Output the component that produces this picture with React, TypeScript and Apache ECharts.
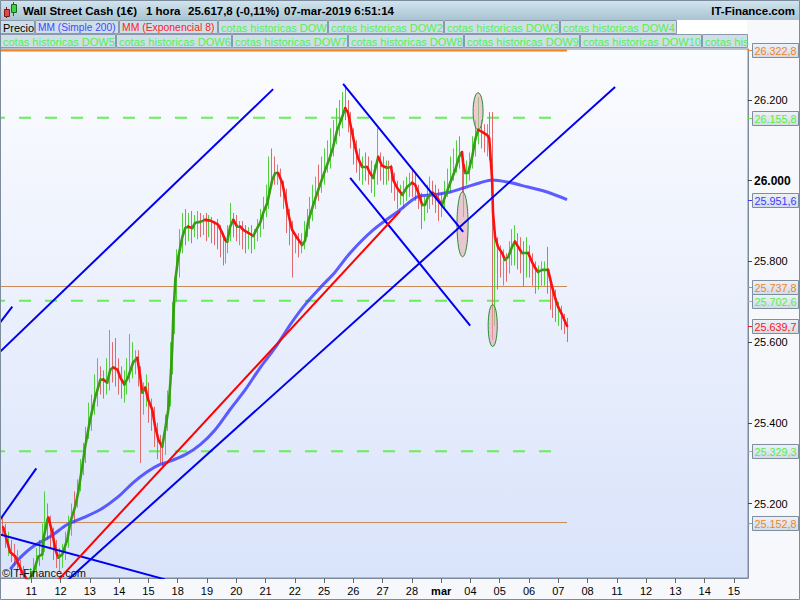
import { useEffect, useRef } from "react";
import * as echarts from "echarts";

// ---- axis ranges / tick labels ----
const X_MIN = -1.07;
const X_MAX = 24.48;
const Y_MIN = 25015.4;
const Y_MAX = 26326.4;

const dayLabels = ["11", "12", "13", "14", "15", "18", "19", "20", "21", "22", "25", "26", "27", "28", "mar", "04", "05", "06", "07", "08", "11", "12", "13", "14", "15"];
const priceTicks = [25200, 25400, 25600, 25800, 26000, 26200];

// ---- EMA 8 (time in trading days, price) ----
const emaT = [-0.96, -0.72, -0.55, -0.31, -0.10, 0.07, 0.24, 0.38, 0.41, 0.55, 0.58, 0.72, 0.82, 0.92, 1.06, 1.23, 1.33, 1.50, 1.60, 1.74, 1.84, 2.01, 2.19, 2.36, 2.46, 2.59, 2.70, 2.80, 2.94, 3.04, 3.18, 3.31, 3.48, 3.62, 3.72, 3.79, 3.89, 3.99, 4.13, 4.23, 4.34, 4.47, 4.57, 4.68, 4.75, 4.81, 4.85, 4.92, 5.02, 5.16, 5.26, 5.36, 5.50, 5.60, 5.77, 5.94, 6.11, 6.21, 6.38, 6.52, 6.62, 6.69, 6.79, 6.90, 7.03, 7.14, 7.24, 7.41, 7.58, 7.72, 7.82, 7.92, 8.06, 8.23, 8.33, 8.43, 8.57, 8.67, 8.77, 8.91, 9.08, 9.25, 9.35, 9.46, 9.63, 9.80, 10.04, 10.21, 10.31, 10.45, 10.62, 10.72, 10.82, 10.89, 10.99, 11.06, 11.16, 11.30, 11.47, 11.57, 11.68, 11.74, 11.85, 11.98, 12.15, 12.29, 12.36, 12.50, 12.67, 12.84, 13.01, 13.11, 13.21, 13.35, 13.45, 13.55, 13.72, 13.86, 14.03, 14.13, 14.31, 14.48, 14.61, 14.71, 14.75, 14.82, 14.92, 15.06, 15.16, 15.26, 15.40, 15.57, 15.64, 15.74, 15.77, 15.84, 15.94, 16.08, 16.18, 16.29, 16.42, 16.52, 16.63, 16.76, 16.87, 16.97, 17.10, 17.21, 17.31, 17.45, 17.55, 17.65, 17.79, 17.89, 17.99, 18.13, 18.23, 18.30];
const emaP = [25141, 25079, 25069, 25029, 25007, 25029, 25069, 25074, 25111, 25160, 25165, 25128, 25086, 25066, 25074, 25111, 25153, 25193, 25227, 25292, 25341, 25408, 25465, 25507, 25507, 25500, 25532, 25537, 25532, 25512, 25495, 25514, 25550, 25561, 25514, 25475, 25487, 25458, 25433, 25391, 25358, 25341, 25383, 25433, 25500, 25581, 25663, 25755, 25811, 25861, 25883, 25886, 25883, 25896, 25898, 25903, 25901, 25898, 25891, 25871, 25853, 25849, 25886, 25903, 25886, 25886, 25878, 25871, 25863, 25883, 25896, 25920, 25945, 26002, 26019, 26019, 25995, 25960, 25920, 25878, 25858, 25841, 25851, 25900, 25940, 25977, 26027, 26060, 26084, 26126, 26158, 26180, 26168, 26143, 26108, 26084, 26056, 26034, 26034, 26019, 26007, 26027, 26059, 26037, 26032, 26034, 26002, 25982, 25965, 25985, 25995, 25990, 25972, 25940, 25940, 25960, 25970, 25958, 25940, 25960, 25995, 26027, 26059, 26071, 26044, 26019, 26019, 26059, 26101, 26126, 26121, 26113, 26106, 26002, 25920, 25861, 25836, 25821, 25804, 25811, 25836, 25849, 25836, 25821, 25821, 25821, 25799, 25784, 25774, 25779, 25779, 25779, 25737, 25710, 25688, 25668, 25651, 25640];

// ---- MM simple 200 ----
const maT = [-0.72, -0.38, 0.07, 0.65, 1.23, 1.78, 2.36, 2.94, 3.48, 3.96, 4.40, 4.64, 5.26, 5.77, 6.28, 6.79, 7.31, 7.82, 8.33, 8.84, 9.35, 9.87, 10.38, 10.89, 11.68, 12.60, 13.18, 13.72, 14.31, 14.89, 15.33, 15.74, 16.25, 16.93, 17.62, 18.30];
const maP = [25037, 25066, 25094, 25118, 25148, 25165, 25185, 25215, 25252, 25279, 25297, 25302, 25321, 25346, 25383, 25433, 25482, 25537, 25586, 25643, 25693, 25735, 25774, 25821, 25878, 25928, 25960, 25965, 25972, 25985, 25995, 26002, 25997, 25985, 25972, 25953];

// ---- hourly bars: [time, low, high, up(1)/down(0)] ----
const priceBars = [
  [-1.0, 25120, 25170, 0], [-0.9, 25090, 25150, 0], [-0.8, 25070, 25130, 1], [-0.7, 25055, 25110, 0], [-0.6, 25045, 25100, 0],
  [-0.5, 25030, 25085, 1], [-0.4, 25000, 25060, 0], [-0.3, 24990, 25045, 0], [-0.2, 24990, 25035, 1], [-0.05, 24995, 25040, 1],
  [0.05, 25000, 25065, 1], [0.15, 25030, 25090, 1], [0.25, 25045, 25110, 0], [0.35, 25060, 25150, 1], [0.45, 25080, 25230, 1],
  [0.55, 25110, 25200, 0], [0.65, 25090, 25170, 0], [0.75, 25060, 25140, 0], [0.85, 25040, 25110, 0], [0.95, 25030, 25090, 1],
  [1.05, 25040, 25100, 1], [1.15, 25060, 25130, 1], [1.25, 25090, 25170, 1], [1.35, 25120, 25200, 1], [1.45, 25150, 25230, 0],
  [1.55, 25190, 25260, 1], [1.65, 25230, 25310, 1], [1.75, 25270, 25350, 1], [1.85, 25300, 25390, 1], [1.95, 25360, 25450, 1],
  [2.05, 25380, 25470, 1], [2.15, 25420, 25520, 1], [2.25, 25440, 25560, 1], [2.35, 25470, 25540, 0], [2.45, 25460, 25530, 0],
  [2.55, 25470, 25560, 1], [2.65, 25480, 25630, 1], [2.75, 25500, 25600, 0], [2.85, 25490, 25610, 0], [2.95, 25470, 25560, 0],
  [3.05, 25460, 25540, 0], [3.15, 25450, 25530, 1], [3.25, 25470, 25560, 1], [3.35, 25500, 25620, 1], [3.45, 25510, 25600, 1],
  [3.55, 25520, 25580, 1], [3.65, 25490, 25580, 0], [3.72, 25300, 25540, 0], [3.80, 25420, 25500, 1], [3.90, 25440, 25520, 1],
  [4.00, 25400, 25500, 0], [4.10, 25380, 25460, 0], [4.20, 25340, 25440, 0], [4.30, 25310, 25400, 0], [4.40, 25300, 25370, 0],
  [4.47, 25290, 25360, 0], [4.55, 25320, 25420, 1], [4.65, 25380, 25480, 1], [4.72, 25440, 25600, 1], [4.80, 25520, 25700, 1],
  [4.88, 25620, 25760, 1], [4.95, 25700, 25830, 1], [5.05, 25760, 25880, 1], [5.15, 25820, 25920, 1], [5.25, 25840, 25930, 0],
  [5.35, 25850, 25920, 1], [5.45, 25845, 25925, 0], [5.55, 25860, 25915, 1], [5.65, 25855, 25925, 1], [5.75, 25860, 25920, 0],
  [5.85, 25865, 25915, 1], [5.95, 25850, 25920, 0], [6.05, 25860, 25915, 1], [6.15, 25845, 25910, 0], [6.25, 25840, 25900, 0],
  [6.35, 25830, 25905, 0], [6.45, 25810, 25890, 0], [6.55, 25790, 25870, 0], [6.62, 25795, 25860, 1], [6.70, 25820, 25890, 1],
  [6.80, 25850, 25945, 1], [6.90, 25860, 25920, 0], [7.00, 25850, 25915, 0], [7.10, 25840, 25900, 1], [7.20, 25830, 25900, 0],
  [7.30, 25820, 25890, 0], [7.40, 25830, 25885, 1], [7.50, 25820, 25890, 0], [7.60, 25830, 25880, 1], [7.70, 25850, 25905, 1],
  [7.80, 25860, 25930, 1], [7.90, 25880, 25960, 1], [8.00, 25910, 25990, 1], [8.10, 25930, 26060, 1], [8.20, 25990, 26080, 0],
  [8.30, 25990, 26060, 0], [8.40, 25990, 26040, 1], [8.50, 25960, 26030, 0], [8.60, 25930, 26000, 0], [8.70, 25870, 25980, 0],
  [8.80, 25840, 25930, 0], [8.90, 25760, 25900, 0], [9.00, 25820, 25870, 1], [9.10, 25810, 25870, 0], [9.20, 25820, 25870, 1],
  [9.30, 25830, 25900, 1], [9.40, 25860, 25930, 1], [9.50, 25880, 25960, 1], [9.60, 25900, 25990, 1], [9.70, 25930, 26010, 1],
  [9.80, 25950, 26040, 0], [9.90, 25970, 26060, 1], [10.00, 25990, 26080, 1], [10.10, 26020, 26100, 1], [10.20, 26030, 26130, 1],
  [10.30, 26060, 26150, 1], [10.40, 26090, 26180, 1], [10.50, 26110, 26200, 1], [10.60, 26130, 26220, 1], [10.70, 26150, 26237, 0],
  [10.80, 26120, 26200, 0], [10.90, 26080, 26170, 0], [11.00, 26040, 26130, 0], [11.10, 26020, 26100, 0], [11.20, 26000, 26080, 0],
  [11.30, 25990, 26060, 1], [11.40, 26000, 26070, 0], [11.50, 25990, 26060, 0], [11.60, 25970, 26050, 0], [11.70, 25960, 26040, 1],
  [11.80, 25990, 26130, 1], [11.90, 26000, 26070, 0], [12.00, 25990, 26060, 0], [12.10, 25990, 26050, 1], [12.20, 26000, 26050, 0],
  [12.30, 25970, 26040, 0], [12.40, 25950, 26020, 0], [12.50, 25930, 26000, 0], [12.60, 25940, 25990, 1], [12.70, 25930, 26000, 1],
  [12.80, 25950, 26010, 1], [12.90, 25960, 26020, 1], [13.00, 25960, 26030, 0], [13.10, 25950, 26020, 0], [13.20, 25930, 25990, 0],
  [13.30, 25880, 25970, 0], [13.40, 25900, 25960, 1], [13.50, 25920, 25990, 1], [13.60, 25930, 26010, 1], [13.70, 25940, 26000, 0],
  [13.80, 25920, 25990, 0], [13.90, 25900, 25980, 0], [14.00, 25910, 25970, 1], [14.10, 25930, 26000, 1], [14.20, 25960, 26030, 1],
  [14.30, 25970, 26060, 1], [14.40, 26000, 26080, 1], [14.50, 26020, 26100, 1], [14.60, 26030, 26110, 0], [14.70, 25970, 26070, 0],
  [14.75, 25910, 26040, 0], [14.85, 25990, 26050, 1], [14.95, 26000, 26070, 1], [15.05, 26030, 26110, 1], [15.15, 26060, 26150, 1],
  [15.25, 26090, 26207, 1], [15.35, 26080, 26150, 0], [15.45, 26070, 26140, 0], [15.55, 26060, 26140, 1], [15.65, 26050, 26170, 0],
  [15.72, 25606, 26170, 0], [15.80, 25640, 25870, 1], [15.90, 25730, 25860, 0], [16.00, 25760, 25840, 0], [16.10, 25740, 25830, 1],
  [16.20, 25750, 25820, 0], [16.30, 25770, 25850, 1], [16.40, 25790, 25880, 1], [16.50, 25790, 25890, 1], [16.60, 25780, 25870, 0],
  [16.70, 25770, 25860, 0], [16.80, 25737, 25850, 0], [16.90, 25760, 25860, 1], [17.00, 25760, 25840, 0], [17.10, 25740, 25820, 0],
  [17.20, 25720, 25800, 0], [17.30, 25730, 25790, 1], [17.40, 25740, 25800, 1], [17.50, 25740, 25800, 1], [17.60, 25720, 25836, 0],
  [17.70, 25680, 25760, 0], [17.80, 25660, 25740, 0], [17.90, 25650, 25730, 0], [18.00, 25640, 25700, 1], [18.10, 25630, 25690, 0],
  [18.20, 25620, 25670, 0], [18.30, 25600, 25660, 0],
];

// ---- levels ----
const rangeLevels = [26322.8, 25737.8, 25152.8];
const cotaLevels = [26155.8, 25702.6, 25329.3];
const lastMA = 25951.6;
const lastEMA = 25639.7;
const levelEndT = 18.3;

// ---- drawn trend lines [t1, p1, t2, p2] ----
const blueTrends = [
  [-1.07, 25576, 8.26, 26227],
  [-1.07, 25648, -0.65, 25688],
  [-1.07, 25160, 0.17, 25287],
  [-1.07, 25123, 4.57, 25012],
  [1.16, 25005, 19.94, 26232],
  [10.65, 26240, 14.75, 25873],
  [10.89, 26007, 14.99, 25641],
];
const redTrends = [[0.85, 25005, 12.60, 25925]];

// ---- ellipses [t, price, widthDays, heightPts] ----
const ellipses = [
  [15.26, 26172, 0.34, 92],
  [14.73, 25892, 0.38, 161],
  [15.76, 25641, 0.31, 104],
];

// ---- header / legend texts ----
const legendRow1 = [
  { text: "Precio", color: "#000000", x: 0, w: 35, fs: 11 },
  { text: "MM (Simple 200)", color: "#4646ff", x: 35, w: 84, fs: 10.2 },
  { text: "MM (Exponencial 8)", color: "#ff2020", x: 119, w: 99, fs: 10.4 },
  { text: "cotas historicas DOW", color: "#55ee55", x: 218, w: 110, fs: 11 },
  { text: "cotas historicas DOW2", color: "#55ee55", x: 328, w: 116, fs: 11 },
  { text: "cotas historicas DOW3", color: "#55ee55", x: 444, w: 116, fs: 11 },
  { text: "cotas historicas DOW4", color: "#55ee55", x: 560, w: 117, fs: 11 },
];
const legendRow2 = [
  { text: "cotas historicas DOW5", color: "#55ee55", x: 0, w: 116, fs: 11 },
  { text: "cotas historicas DOW6", color: "#55ee55", x: 116, w: 116, fs: 11 },
  { text: "cotas historicas DOW7", color: "#55ee55", x: 232, w: 116, fs: 11 },
  { text: "cotas historicas DOW8", color: "#55ee55", x: 348, w: 116, fs: 11 },
  { text: "cotas historicas DOW9", color: "#55ee55", x: 464, w: 116, fs: 11 },
  { text: "cotas historicas DOW10", color: "#55ee55", x: 580, w: 122, fs: 11 },
  { text: "cotas his", color: "#55ee55", x: 702, w: 46, fs: 11 },
];
const headerParts = [
  { text: "Wall Street Cash (1€)", x: 23 },
  { text: "1 hora", x: 146 },
  { text: "25.617,8 (-0,11%)", x: 188 },
  { text: "07-mar-2019 6:51:14", x: 284 },
];

const FONT = '"Liberation Sans", Arial, sans-serif';
const boxColors = ["#f08424", "#55ee44", "#3b3bff", "#ff1414"];

function fmtNum(v: number, dec: number) {
  const s = v.toFixed(dec);
  const [ip, dp] = s.split(".");
  const dotted = ip.replace(/\B(?=(\d{3})+(?!\d))/g, ".");
  return dp ? dotted + "," + dp : dotted;
}

function buildOption() {
  const series: any[] = [];

  // range levels (orange)
  rangeLevels.forEach((v, i) => {
    series.push({
      type: "line", silent: true, showSymbol: false, z: 1,
      data: [[X_MIN, v], [levelEndT, v]],
      lineStyle: { color: i === 0 ? "#f08424" : "#c98a55", width: i === 0 ? 2 : 1 },
    });
  });
  // historical levels (green dashed)
  cotaLevels.forEach((v) => {
    series.push({
      type: "line", silent: true, showSymbol: false, z: 1,
      data: [[X_MIN, v], [18.06, v]],
      lineStyle: { color: "#66f055", width: 2, type: [12, 14], dashOffset: 7 },
    });
  });

  // hourly bars
  series.push({
    type: "custom", silent: true, clip: true, z: 2,
    data: priceBars,
    encode: { x: 0, y: [1, 2] },
    renderItem: (params: any, api: any) => {
      const t = api.value(0);
      const a = api.coord([t, api.value(1)]);
      const b = api.coord([t, api.value(2)]);
      const x = Math.round(a[0]) + 0.5;
      return {
        type: "line",
        shape: { x1: x, y1: a[1], x2: x, y2: b[1] },
        style: { stroke: api.value(3) ? "#52cf3c" : "#e06a6a", lineWidth: 1 },
      };
    },
  });

  // MA 200
  series.push({
    type: "line", silent: true, showSymbol: false, smooth: 0.3, z: 3,
    data: maT.map((t, i) => [t, maP[i]]),
    lineStyle: { color: "rgba(55,55,255,0.8)", width: 3 },
  });

  // ellipses
  series.push({
    type: "custom", silent: true, clip: true, z: 4,
    data: ellipses,
    encode: { x: 0, y: 1 },
    renderItem: (params: any, api: any) => {
      const c = api.coord([api.value(0), api.value(1)]);
      const s = api.size([api.value(2), api.value(3)]);
      return {
        type: "ellipse",
        shape: { cx: c[0], cy: c[1], rx: s[0] / 2, ry: s[1] / 2 },
        style: { fill: "rgba(228,170,182,0.6)", stroke: "#2d8a2d", lineWidth: 1 },
      };
    },
  });

  // EMA 8, split into rising / falling runs
  const runs: { up: boolean; pts: number[][] }[] = [];
  let cur: number[][] = [[emaT[0], emaP[0]]];
  let dir = emaP[1] >= emaP[0];
  for (let i = 1; i < emaT.length; i++) {
    const d = emaP[i] >= emaP[i - 1];
    if (d !== dir && cur.length > 1) {
      runs.push({ up: dir, pts: cur });
      cur = [[emaT[i - 1], emaP[i - 1]]];
      dir = d;
    }
    cur.push([emaT[i], emaP[i]]);
  }
  runs.push({ up: dir, pts: cur });
  runs.forEach((r) => {
    series.push({
      type: "line", silent: true, showSymbol: false, z: 5,
      data: r.pts,
      lineStyle: { color: r.up ? "#379c16" : "#ff1010", width: 2.6, cap: "round", join: "round" },
    });
  });

  // trend lines
  blueTrends.forEach((l) => {
    series.push({
      type: "line", silent: true, showSymbol: false, z: 6,
      data: [[l[0], l[1]], [l[2], l[3]]],
      lineStyle: { color: "#0000f0", width: 2 },
    });
  });
  redTrends.forEach((l) => {
    series.push({
      type: "line", silent: true, showSymbol: false, z: 6,
      data: [[l[0], l[1]], [l[2], l[3]]],
      lineStyle: { color: "#ff0000", width: 2 },
    });
  });

  // right-axis value boxes
  const boxes: number[][] = [];
  rangeLevels.forEach((v) => boxes.push([X_MAX, v, 0]));
  cotaLevels.forEach((v) => boxes.push([X_MAX, v, 1]));
  boxes.push([X_MAX, lastMA, 2]);
  boxes.push([X_MAX, lastEMA, 3]);
  series.push({
    type: "custom", silent: true, clip: false, z: 20,
    data: boxes,
    encode: { x: 0, y: 1 },
    renderItem: (params: any, api: any) => {
      const p = api.coord([api.value(0), api.value(1)]);
      const x0 = Math.round(p[0]);
      const y = Math.round(p[1]);
      const col = boxColors[api.value(2)];
      return {
        type: "group",
        children: [
          { type: "line", shape: { x1: x0, y1: y + 0.5, x2: x0 + 4, y2: y + 0.5 }, style: { stroke: col, lineWidth: 1 } },
          {
            type: "rect",
            shape: { x: x0 + 4.5, y: y - 6.5, width: 46, height: 14 },
            style: {
              fill: new echarts.graphic.LinearGradient(0, 0, 0, 1, [
                { offset: 0, color: "#eef2f8" },
                { offset: 1, color: "#d2dbe7" },
              ]),
              stroke: "#7e8e9e", lineWidth: 1,
            },
          },
          {
            type: "text",
            x: x0 + 6.5, y: y + 1,
            style: { text: fmtNum(api.value(1), 1), fill: col, font: "10.8px " + FONT, verticalAlign: "middle" },
          },
        ],
      };
    },
  });

  // graphic (header, legend, frame)
  const graphic: any[] = [];
  graphic.push({
    type: "rect", z: 10, shape: { x: 0, y: 0, width: 800, height: 20 },
    style: {
      fill: new echarts.graphic.LinearGradient(0, 0, 0, 1, [
        { offset: 0, color: "#d3e6ef" },
        { offset: 1, color: "#a8c3d2" },
      ]),
    },
  });
  // icon
  graphic.push({ type: "line", z: 11, shape: { x1: 6.5, y1: 7, x2: 6.5, y2: 18 }, style: { stroke: "#7a1a1a", lineWidth: 1 } });
  graphic.push({ type: "rect", z: 11, shape: { x: 4.5, y: 9.5, width: 5, height: 7 }, style: { fill: "#e04848", stroke: "#7a1a1a", lineWidth: 1 } });
  graphic.push({ type: "line", z: 11, shape: { x1: 13.5, y1: 2, x2: 13.5, y2: 16 }, style: { stroke: "#1a6a1a", lineWidth: 1 } });
  graphic.push({ type: "rect", z: 11, shape: { x: 11.5, y: 4.5, width: 5, height: 8 }, style: { fill: "#44d044", stroke: "#1a6a1a", lineWidth: 1 } });
  headerParts.forEach((h) => {
    graphic.push({ type: "text", z: 11, x: h.x, y: 11, style: { text: h.text, fill: "#000", font: "bold 11.5px " + FONT, verticalAlign: "middle" } });
  });
  graphic.push({ type: "text", z: 11, x: 795, y: 11, style: { text: "IT-Finance.com", fill: "#000", font: "bold 11.5px " + FONT, verticalAlign: "middle", align: "right" } });
  // legend area background
  graphic.push({ type: "rect", z: 10, shape: { x: 677, y: 20, width: 70, height: 14 }, style: { fill: "#ffffff" } });
  const legendBox = (it: any, y: number) => {
    graphic.push({
      type: "rect", z: 10, shape: { x: it.x + 0.5, y: y + 0.5, width: it.w - 1, height: 13 },
      style: { fill: "#cfdfe9", stroke: "#8a9aaa", lineWidth: 1 },
    });
    graphic.push({ type: "text", z: 11, x: it.x + 3, y: y + 7.5, style: { text: it.text, fill: it.color, font: it.fs + "px " + FONT, verticalAlign: "middle" } });
  };
  legendRow1.forEach((it) => legendBox(it, 20));
  legendRow2.forEach((it) => legendBox(it, 34));
  // watermark
  graphic.push({ type: "text", z: 11, x: 2, y: 573, style: { text: "©IT-Finance.com", fill: "#111", font: "11px " + FONT, verticalAlign: "middle" } });
  // outer frame
  graphic.push({ type: "rect", z: 12, shape: { x: 0.5, y: 0.5, width: 799, height: 599 }, style: { fill: "none", stroke: "#7d8c9c", lineWidth: 1 } });

  const dayTicks = dayLabels.map((_, i) => i);

  return {
    animation: false,
    backgroundColor: "#f6f8fb",
    textStyle: { fontFamily: FONT },
    grid: {
      left: 0, right: 52, top: 49, bottom: 22, show: true,
      borderColor: "#7d8c9c", borderWidth: 1,
      backgroundColor: new echarts.graphic.LinearGradient(0, 0, 0, 1, [
        { offset: 0, color: "#fbfcff" },
        { offset: 1, color: "#d9e3fa" },
      ]),
    },
    xAxis: {
      type: "value", min: X_MIN, max: X_MAX,
      axisLine: { show: true, onZero: false, lineStyle: { color: "#7d8c9c" } },
      splitLine: { show: false },
      axisTick: { show: true, customValues: dayTicks, length: 5, lineStyle: { color: "#666" } },
      axisLabel: {
        customValues: dayTicks, color: "#000", fontSize: 11, margin: 7, fontFamily: FONT,
        formatter: (v: number) => {
          const lab = dayLabels[Math.round(v)] ?? "";
          return lab === "mar" ? "{b|mar}" : lab;
        },
        rich: { b: { fontWeight: "bold", fontSize: 11, fontFamily: FONT, color: "#000" } },
      },
    },
    yAxis: {
      type: "value", position: "right", min: Y_MIN, max: Y_MAX,
      axisLine: { show: true, onZero: false, lineStyle: { color: "#7d8c9c" } },
      splitLine: { show: false },
      axisTick: { show: true, customValues: priceTicks, length: 4, lineStyle: { color: "#444" } },
      axisLabel: {
        customValues: priceTicks, color: "#000", fontSize: 11, margin: 6, fontFamily: FONT,
        formatter: (v: number) => (v === 26000 ? "{b|26.000}" : fmtNum(v, 0)),
        rich: { b: { fontWeight: "bold", fontSize: 12, fontFamily: FONT, color: "#000" } },
      },
    },
    series,
    graphic,
  };
}

export default function App() {
  const ref = useRef<HTMLDivElement>(null);
  useEffect(() => {
    if (!ref.current) return;
    const chart = echarts.init(ref.current, undefined, { renderer: "svg" });
    chart.setOption(buildOption() as any);
    return () => chart.dispose();
  }, []);
  return <div ref={ref} style={{ position: "fixed", left: 0, top: 0, width: 800, height: 600 }} />;
}
